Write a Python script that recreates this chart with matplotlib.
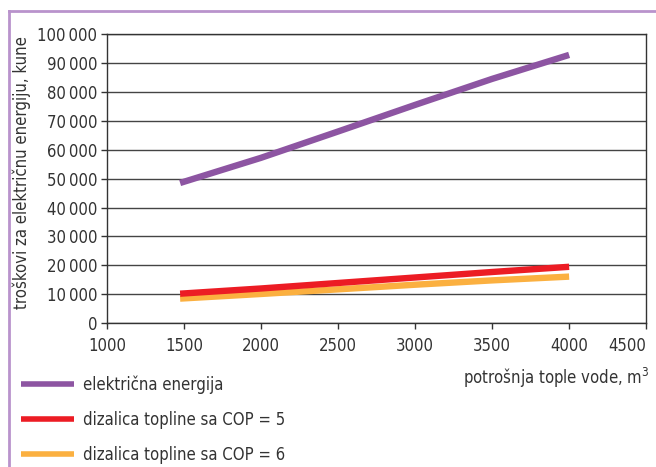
import matplotlib
matplotlib.use("Agg")
import matplotlib.pyplot as plt
from matplotlib.lines import Line2D

plt.rcParams['font.family'] = ['DejaVu Sans']
plt.rcParams['font.stretch'] = 'condensed'

# potrošnja tople vode, m3
voda = [1475, 2000, 2500, 3000, 3500, 4000]
# troškovi, kune
elektricna = [48500, 57200, 66300, 75500, 84500, 92800]
cop5 = [10200, 12000, 13900, 15800, 17700, 19500]
cop6 = [8500, 10100, 11700, 13300, 14800, 16100]

labels = ['električna energija', 'dizalica topline sa COP = 5', 'dizalica topline sa COP = 6']
colors = ['#8d55a2', '#ec1c24', '#fbb040']

fig = plt.figure(figsize=(6.56, 4.67), dpi=100)
ax = fig.add_axes([0.163, 0.308, 0.822, 0.619])

for y, c, lab in zip([elektricna, cop5, cop6][::-1], colors[::-1], labels[::-1]):
    ax.plot(voda, y, color=c, lw=4.6, solid_capstyle='butt', label=lab, zorder=3)

ax.set_xlim(1000, 4500)
ax.set_ylim(0, 100000)
ax.set_xticks(range(1000, 4501, 500))
ax.set_yticks(range(0, 100001, 10000))
ax.set_yticklabels([f"{v:,}".replace(",", "\u2009") for v in range(0, 100001, 10000)])
ax.yaxis.grid(True, color='#444444', lw=1)
ax.set_axisbelow(True)
for s in ax.spines.values():
    s.set_color('#333333')
    s.set_linewidth(1)
ax.tick_params(labelsize=12, colors='#333333', length=4, width=1, pad=3)
ax.tick_params(axis='x', pad=6)
ax.get_xticklabels()[-1].set_horizontalalignment('right')

ax.set_ylabel('troškovi za električnu energiju, kune', fontsize=12, color='#333333')
ax.yaxis.set_label_coords(-0.141, 0.52)
fig.text(0.99, 0.19, 'potrošnja tople vode, m$^3$', fontsize=12, color='#333333', ha='right', va='center')

handles = [Line2D([0], [0], color=c, lw=4, solid_capstyle='butt') for c in colors]
fig.legend(handles, labels, loc='upper left', bbox_to_anchor=(0.032, 0.197), frameon=False,
           fontsize=12, handlelength=3.2, handletextpad=0.5, labelspacing=1.03,
           borderpad=0, borderaxespad=0, labelcolor='#333333')

# okvir
fig.add_artist(Line2D([0.014, 1.0], [0.976, 0.976], color='#b993cc', lw=2, transform=fig.transFigure))
fig.add_artist(Line2D([0.014, 0.014], [0.0, 0.976], color='#b993cc', lw=2, transform=fig.transFigure))

fig.savefig('out.png', dpi=100)
